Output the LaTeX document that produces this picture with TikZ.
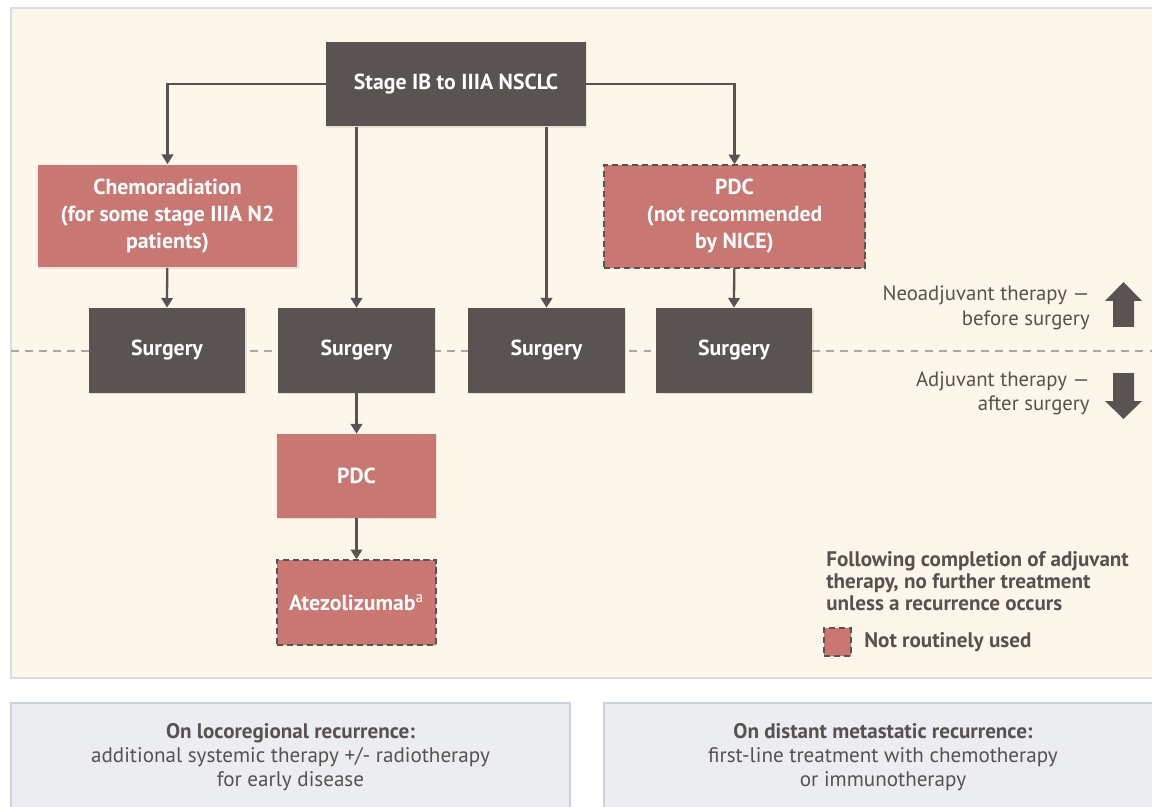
\documentclass[tikz,border=0pt]{standalone}
\usepackage{fontspec}
\setmainfont{PT Sans}
\usetikzlibrary{arrows.meta,shadows}

\definecolor{panelbg}{HTML}{FDF6EA}
\definecolor{panelline}{HTML}{D9DEE4}
\definecolor{boxdark}{HTML}{595452}
\definecolor{boxred}{HTML}{C97773}
\definecolor{textgray}{HTML}{57524F}
\definecolor{recurbg}{HTML}{ECEDF1}
\definecolor{recurline}{HTML}{CBD2DA}
\definecolor{midline}{HTML}{ADA8A5}

\tikzset{
	box/.style={rectangle, inner sep=0pt, align=center, text=white,
		font=\fontsize{12.4}{15.4}\selectfont\bfseries,
		drop shadow={shadow xshift=0.7pt, shadow yshift=-0.7pt, opacity=0.18}},
	darkbox/.style={box, fill=boxdark},
	redbox/.style={box, fill=boxred},
	notused/.style={draw=boxdark, line width=0.9pt, dash pattern=on 3.5pt off 2.2pt},
	arr/.style={draw=boxdark, line width=1.3pt, -{Triangle[length=5.5pt,width=6.5pt]}},
	sidetext/.style={inner sep=0pt, text=textgray, font=\fontsize{11.8}{13.9}\selectfont}
}

\begin{document}
\begin{tikzpicture}[x=0.02cm, y=-0.02cm]
		\useasboundingbox (0,0) rectangle (1152,807);
		\clip (0,0) rectangle (1152,807);
		
		%Hintergrund
		\draw[fill=panelbg, draw=panelline, line width=0.8pt] (11,8) rectangle (1170,678);
		\draw[midline, line width=1pt, dash pattern=on 4.5pt off 3.5pt] (11,351) -- (1152,351);
		
		%Kaesten
		\node[darkbox, minimum width=5.2cm, minimum height=1.7cm] (stage) at (456,84) {Stage IB to IIIA NSCLC};
		\node[redbox, minimum width=5.2cm, minimum height=2.06cm] (chemo) at (167.5,216) {Chemoradiation\\(for some stage IIIA N2\\patients)};
		\node[redbox, notused, minimum width=5.22cm, minimum height=2.06cm] (pdcnice) at (734.5,216.5) {PDC\\(not recommended\\by NICE)};
		\foreach \name/\x in {surgA/167, surgB/356.5, surgC/546.5, surgD/734}
			\node[darkbox, minimum width=3.14cm, minimum height=1.7cm] (\name) at (\x,350.5) {Surgery};
		\node[redbox, minimum width=3.18cm, minimum height=1.68cm] (pdc) at (356.5,476) {PDC};
		\node[redbox, notused, minimum width=3.18cm, minimum height=1.7cm] (atezo) at (356.5,602.5) {Atezolizumab\textsuperscript{\mdseries a}};
		
		%Pfeile
		\draw[arr] (stage.west) -| (chemo.north);
		\draw[arr] (stage.east) -| (pdcnice.north);
		\draw[arr] (stage.south -| surgB) -- (surgB.north);
		\draw[arr] (stage.south -| surgC) -- (surgC.north);
		\draw[arr] (chemo) -- (surgA.north);
		\draw[arr] (pdcnice) -- (surgD.north);
		\draw[arr] (surgB) -- (pdc.north);
		\draw[arr] (pdc) -- (atezo.north);
		
		%Neoadjuvant / Adjuvant
		\node[sidetext, anchor=east, align=right] (neo) at (1090,308) {Neoadjuvant therapy —\\before surgery};
		\node[sidetext, anchor=east, align=right] (adj) at (1090,393.5) {Adjuvant therapy —\\after surgery};
		\fill[boxdark] (1113,327) -- (1113,301) -- (1105,301) -- (1123.5,282) -- (1142,301) -- (1134,301) -- (1134,327) -- cycle;
		\fill[boxdark] (1113,373) -- (1113,401) -- (1105,401) -- (1123.5,419) -- (1142,401) -- (1134,401) -- (1134,373) -- cycle;
		
		%Legende
		\node[sidetext, anchor=west, align=left, font=\fontsize{12}{12.5}\selectfont\bfseries] (follow) at (826,581)
			{Following completion of adjuvant\\therapy, no further treatment\\unless a recurrence occurs};
		\node[redbox, notused, minimum width=0.54cm, minimum height=0.55cm] (legbox) at (837.5,642) {};
		\node[sidetext, anchor=west, font=\fontsize{12}{12.5}\selectfont\bfseries] (legtext) at (864,642) {Not routinely used};
		
		%Rezidiv
		\draw[fill=recurbg, draw=recurline, line width=0.8pt] (11,703) rectangle (570,830);
		\draw[fill=recurbg, draw=recurline, line width=0.8pt] (604,703) rectangle (1170,830);
		\node[sidetext, align=center, font=\fontsize{12}{13.6}\selectfont] (loco) at (290.5,757.5)
			{\textbf{On locoregional recurrence:}\\additional systemic therapy +/- radiotherapy\\for early disease};
		\node[sidetext, align=center, font=\fontsize{12}{13.6}\selectfont] (dist) at (883,757.5)
			{\textbf{On distant metastatic recurrence:}\\first-line treatment with chemotherapy\\or immunotherapy};
\end{tikzpicture}
\end{document}
